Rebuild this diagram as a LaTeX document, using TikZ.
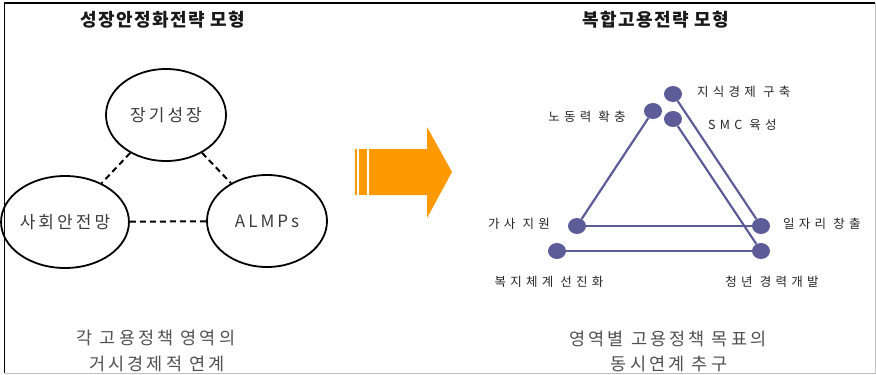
\documentclass[tikz,border=0pt]{standalone}
\usepackage{fontspec}
\setmainfont{Noto Sans CJK KR}
\newfontfamily\titlefont[LetterSpace=8]{Noto Sans CJK KR}
\newfontfamily\ellfont[LetterSpace=18]{Noto Sans CJK KR}
\newfontfamily\botfont[LetterSpace=18]{Noto Sans CJK KR}
\newfontfamily\lblfont[LetterSpace=34]{Noto Sans CJK KR}
\usetikzlibrary{shapes.geometric}
\definecolor{dotc}{HTML}{5C5C99}
\definecolor{arrowc}{HTML}{FF9900}
\definecolor{txtgray}{HTML}{3C3C3C}
\definecolor{botgray}{HTML}{505050}
\tikzset{
  titletext/.style={font=\titlefont\fontsize{18}{20}\selectfont\bfseries, text=black!90, inner sep=0pt},
  bigell/.style={ellipse, draw=black, line width=1.8pt, minimum width=120pt, minimum height=92pt, inner sep=0pt, font=\ellfont\fontsize{17}{19}\selectfont, text=txtgray},
  linkdash/.style={draw=black, line width=2pt, dash pattern=on 6pt off 4pt},
  bottext/.style={font=\botfont\fontsize{17.5}{19}\selectfont, text=botgray, inner sep=0pt},
  dotnode/.style={ellipse, fill=dotc, minimum width=18pt, minimum height=16pt, inner sep=0pt},
  dotlink/.style={draw=dotc, line width=2.2pt},
  lbl/.style={font=\lblfont\fontsize{12.5}{14}\selectfont, text=black!85, inner sep=0pt},
}
\begin{document}
\begin{tikzpicture}[x=1pt, y=-1pt]
\useasboundingbox (0,0) rectangle (876,375);
\fill[white] (0,0) rectangle (876,375);
% frame
\draw[black, line width=1.6pt] (4.5,373) -- (4.5,3) -- (875,3);
\draw[black!25, line width=1pt] (875,3) -- (875,373) -- (4.5,373);

% left part
\node[titletext] (ltitle) at (163,20) {성장안정화전략 모형};
\node[bigell] (growth) at (166,115) {장기성장};
\node[bigell] (safety) at (65,222) {사회안전망};
\node[bigell] (almp) at (267,221) {ALMPs};
\draw[linkdash] (growth) -- (safety);
\draw[linkdash] (growth) -- (almp);
\draw[linkdash] (safety) -- (almp);
\node[bottext] (lb1) at (156,338) {각 고용정책 영역의};
\node[bottext] (lb2) at (157,364) {거시경제적 연계};

% arrow
\fill[arrowc] (355,149) rectangle (357,195);
\fill[arrowc] (359,149) rectangle (366.5,195);
\fill[arrowc] (369,149) -- (427,149) -- (427,127) -- (452,172) -- (427,218) -- (427,195) -- (369,195) -- cycle;

% right part
\node[titletext] (rtitle) at (656,20) {복합고용전략 모형};
\node[dotnode] (know) at (673,94) {};
\node[dotnode] (labor) at (653,111) {};
\node[dotnode] (smc) at (673,119) {};
\node[dotnode] (house) at (577,226) {};
\node[dotnode] (job) at (761,226) {};
\node[dotnode] (welf) at (557,251) {};
\node[dotnode] (youth) at (761,251) {};
\draw[dotlink] (labor) -- (house);
\draw[dotlink] (house) -- (job);
\draw[dotlink] (know) -- (job);
\draw[dotlink] (smc) -- (youth);
\draw[dotlink] (welf) -- (youth);

\node[lbl, anchor=west] (lknow) at (697,92) {지식경제 구축};
\node[lbl] (llabor) at (587,117) {노동력 확충};
\node[lbl, anchor=west] (lsmc) at (708,125) {SMC 육성};
\node[lbl] (lhouse) at (519,224) {가사 지원};
\node[lbl, anchor=west] (ljob) at (783,224) {일자리 창출};
\node[lbl] (lwelf) at (549,282) {복지체계 선진화};
\node[lbl] (lyouth) at (772,282) {청년 경력개발};

\node[bottext] (rb1) at (668,339) {영역별 고용정책 목표의};
\node[bottext] (rb2) at (669,364) {동시연계 추구};
\end{tikzpicture}
\end{document}
